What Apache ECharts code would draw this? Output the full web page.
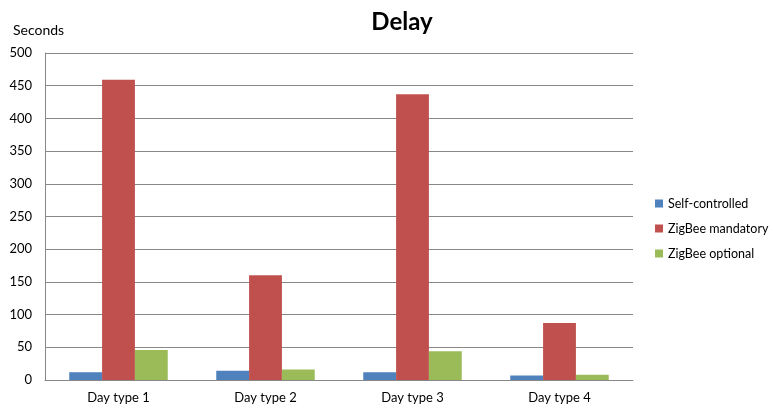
<!DOCTYPE html>
<html><head><meta charset="utf-8">
<script src="https://cdn.jsdelivr.net/npm/echarts@6/dist/echarts.min.js"></script>
<style>html,body{margin:0;padding:0;background:#fff}#c{width:773px;height:408px}</style>
</head><body><div id="c"></div>
<script>
const categories = ['Day type 1', 'Day type 2', 'Day type 3', 'Day type 4'];
const selfControlled = [12, 14, 12, 7];
const zigbeeMandatory = [459, 160, 437, 87];
const zigbeeOptional = [46, 16, 44, 8];
const yTicks = [0, 50, 100, 150, 200, 250, 300, 350, 400, 450, 500];

const font = 'Lato, "Open Sans", sans-serif';
const chart = echarts.init(document.getElementById('c'));
chart.setOption({
  animation: false,
  backgroundColor: '#fff',
  title: [
    {text: 'Delay', left: 397, textAlign: 'center', top: 5,
     textStyle: {fontFamily: font, fontSize: 24, fontWeight: 'bold', color: '#000'}},
    {text: 'Seconds', left: 8, top: 18,
     textStyle: {fontFamily: font, fontSize: 14, fontWeight: 'normal', color: '#000'}}
  ],
  legend: {
    orient: 'vertical', left: 650, top: 192, itemGap: 12,
    itemWidth: 8, itemHeight: 8, icon: 'rect',
    textStyle: {fontFamily: font, fontSize: 12.5, color: '#000'},
    data: ['Self-controlled', 'ZigBee mandatory', 'ZigBee optional']
  },
  grid: {left: 45, right: 140, top: 53, bottom: 28},
  xAxis: {
    type: 'category', data: categories,
    axisLine: {lineStyle: {color: '#888'}},
    axisTick: {show: false},
    axisLabel: {fontFamily: font, fontSize: 13, color: '#000', margin: 11}
  },
  yAxis: {
    type: 'value', min: yTicks[0], max: yTicks[yTicks.length - 1], interval: yTicks[1] - yTicks[0],
    axisLine: {show: true, lineStyle: {color: '#888'}},
    axisTick: {show: false},
    splitLine: {lineStyle: {color: '#888'}},
    axisLabel: {fontFamily: font, fontSize: 13, color: '#000', margin: 13}
  },
  series: [
    {name: 'Self-controlled', type: 'bar', data: selfControlled, barGap: '0%', barCategoryGap: '33%', itemStyle: {color: '#4F81BD'}},
    {name: 'ZigBee mandatory', type: 'bar', data: zigbeeMandatory, itemStyle: {color: '#C0504D'}},
    {name: 'ZigBee optional', type: 'bar', data: zigbeeOptional, itemStyle: {color: '#9BBB59'}}
  ]
});
</script></body></html>
